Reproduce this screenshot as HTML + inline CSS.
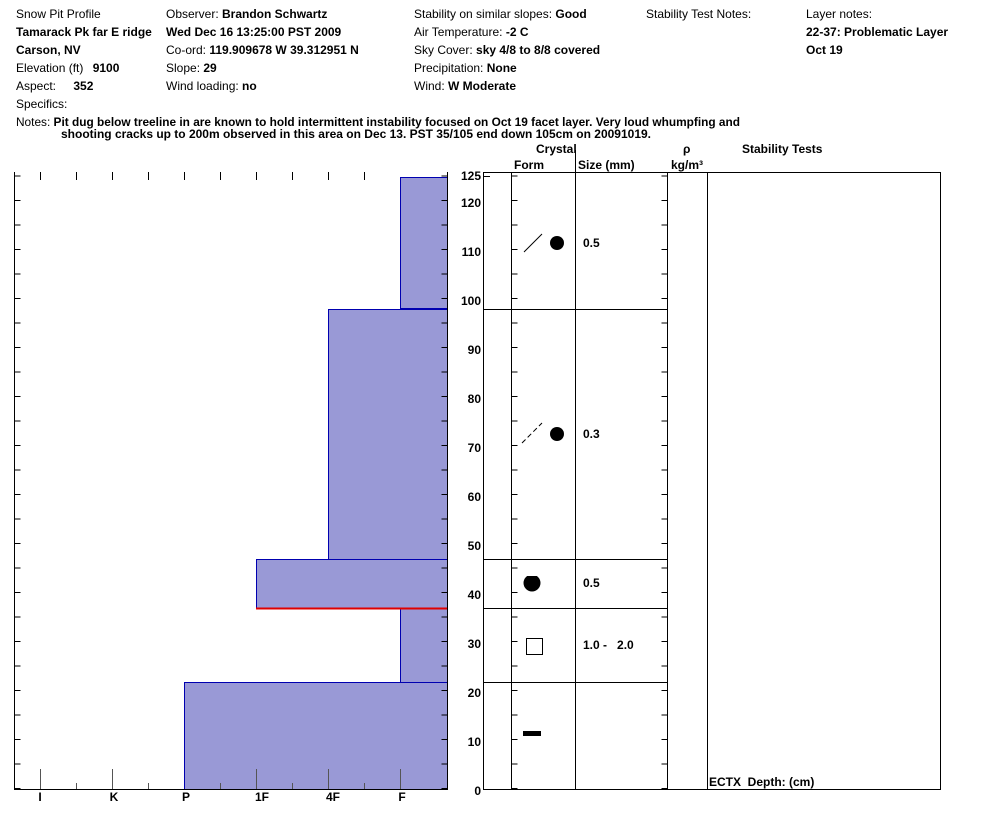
<!DOCTYPE html>
<html><head><meta charset="utf-8"><style>
body{margin:0;background:#fff;}
svg{display:block;font-family:"Liberation Sans",Arial,sans-serif;font-size:12px;}
.b{font-weight:bold;}
</style></head><body>
<svg width="994" height="826" viewBox="0 0 994 826" xmlns="http://www.w3.org/2000/svg">
<g fill="#000">
<text x="16" y="18">Snow Pit Profile</text>
<text x="16" y="36" class="b">Tamarack Pk far E ridge</text>
<text x="16" y="54" class="b">Carson, NV</text>
<text x="16" y="72">Elevation (ft) <tspan class="b" dx="6">9100</tspan></text>
<text x="16" y="90">Aspect: <tspan class="b" dx="14">352</tspan></text>
<text x="16" y="108">Specifics:</text>
<text x="166" y="18">Observer: <tspan class="b">Brandon Schwartz</tspan></text>
<text x="166" y="36" class="b">Wed Dec 16 13:25:00 PST 2009</text>
<text x="166" y="54">Co-ord: <tspan class="b">119.909678 W 39.312951 N</tspan></text>
<text x="166" y="72">Slope: <tspan class="b">29</tspan></text>
<text x="166" y="90">Wind loading: <tspan class="b">no</tspan></text>
<text x="414" y="18">Stability on similar slopes: <tspan class="b">Good</tspan></text>
<text x="414" y="36">Air Temperature: <tspan class="b">-2 C</tspan></text>
<text x="414" y="54">Sky Cover: <tspan class="b">sky 4/8 to 8/8 covered</tspan></text>
<text x="414" y="72">Precipitation: <tspan class="b">None</tspan></text>
<text x="414" y="90">Wind: <tspan class="b">W Moderate</tspan></text>
<text x="646" y="18">Stability Test Notes:</text>
<text x="806" y="18">Layer notes:</text>
<text x="806" y="36" class="b">22-37: Problematic Layer</text>
<text x="806" y="54" class="b">Oct 19</text>
<text x="16" y="126" textLength="724" lengthAdjust="spacingAndGlyphs">Notes: <tspan class="b">Pit dug below treeline in are known to hold intermittent instability focused on Oct 19 facet layer. Very loud whumpfing and</tspan></text>
<text x="61" y="138" class="b" textLength="590" lengthAdjust="spacingAndGlyphs">shooting cracks  up to 200m observed in this area on Dec 13. PST 35/105 end down 105cm on 20091019.</text>
</g>

<g fill="#9999d6" stroke="#0000b0" stroke-width="1">
<rect x="400.5" y="177.5" width="47" height="131"/>
<rect x="328.5" y="309.5" width="119" height="250"/>
<rect x="256.5" y="559.5" width="191" height="49"/>
<rect x="400.5" y="608.5" width="47" height="74"/>
<rect x="184.5" y="682.5" width="263" height="107"/>
</g>
<line x1="256" y1="608.5" x2="447" y2="608.5" stroke="#e00000" stroke-width="2"/>

<g stroke="#000" fill="none">
<line x1="14.5" y1="172" x2="14.5" y2="789.5"/>
<line x1="14" y1="789.5" x2="448" y2="789.5"/>
<line x1="447.5" y1="172" x2="447.5" y2="789.5"/>
<line x1="17.5" y1="789" x2="17.5" y2="172" stroke-width="6" stroke-dasharray="1 23.5"/>
<line x1="444.5" y1="789" x2="444.5" y2="172" stroke-width="6" stroke-dasharray="1 23.5"/>
</g>
<g stroke="#000">
<line x1="40.5" y1="172" x2="40.5" y2="180"/><line x1="76.5" y1="172" x2="76.5" y2="180"/>
<line x1="112.5" y1="172" x2="112.5" y2="180"/><line x1="148.5" y1="172" x2="148.5" y2="180"/>
<line x1="184.5" y1="172" x2="184.5" y2="180"/><line x1="220.5" y1="172" x2="220.5" y2="180"/>
<line x1="256.5" y1="172" x2="256.5" y2="180"/><line x1="292.5" y1="172" x2="292.5" y2="180"/>
<line x1="328.5" y1="172" x2="328.5" y2="180"/><line x1="364.5" y1="172" x2="364.5" y2="180"/>
</g>
<g stroke="#555">
<line x1="40.5" y1="769" x2="40.5" y2="789"/><line x1="76.5" y1="783" x2="76.5" y2="789"/>
<line x1="112.5" y1="769" x2="112.5" y2="789"/><line x1="148.5" y1="783" x2="148.5" y2="789"/>
<line x1="220.5" y1="783" x2="220.5" y2="789"/>
<line x1="256.5" y1="769" x2="256.5" y2="789"/><line x1="292.5" y1="783" x2="292.5" y2="789"/>
<line x1="328.5" y1="769" x2="328.5" y2="789"/><line x1="364.5" y1="783" x2="364.5" y2="789"/>
<line x1="400.5" y1="769" x2="400.5" y2="789"/>
</g>
<g class="b" text-anchor="middle">
<text x="40" y="801">I</text><text x="114" y="801">K</text><text x="186" y="801">P</text>
<text x="262" y="801">1F</text><text x="333" y="801">4F</text><text x="402" y="801">F</text>
</g>

<g class="b" text-anchor="end">
<text x="481" y="180">125</text><text x="481" y="207">120</text><text x="481" y="256">110</text>
<text x="481" y="305">100</text><text x="481" y="354">90</text><text x="481" y="403">80</text>
<text x="481" y="452">70</text><text x="481" y="501">60</text><text x="481" y="550">50</text>
<text x="481" y="599">40</text><text x="481" y="648">30</text><text x="481" y="697">20</text>
<text x="481" y="746">10</text><text x="481" y="795">0</text>
</g>

<g stroke="#000" fill="none">
<rect x="483.5" y="172.5" width="457" height="617"/>
<line x1="511.5" y1="172" x2="511.5" y2="789"/>
<line x1="575.5" y1="150" x2="575.5" y2="789"/>
<line x1="667.5" y1="172" x2="667.5" y2="789"/>
<line x1="707.5" y1="172" x2="707.5" y2="789"/>
<line x1="483" y1="309.5" x2="667" y2="309.5"/>
<line x1="483" y1="559.5" x2="667" y2="559.5"/>
<line x1="483" y1="608.5" x2="667" y2="608.5"/>
<line x1="483" y1="682.5" x2="667" y2="682.5"/>
<line x1="483" y1="176.5" x2="490" y2="176.5"/>
<line x1="514.5" y1="789" x2="514.5" y2="172" stroke-width="6" stroke-dasharray="1 23.5"/>
<line x1="664.5" y1="789" x2="664.5" y2="172" stroke-width="6" stroke-dasharray="1 23.5"/>
</g>
<g class="b">
<text x="536" y="153">Crystal</text>
<text x="514" y="169">Form</text>
<text x="578" y="169">Size (mm)</text>
<text x="683" y="153">ρ</text>
<text x="671" y="169">kg/m³</text>
<text x="742" y="153">Stability Tests</text>
<text x="583" y="247">0.5</text>
<text x="583" y="438">0.3</text>
<text x="583" y="587">0.5</text>
<text x="583" y="649" xml:space="preserve">1.0 -   2.0</text>
<text x="709" y="786" xml:space="preserve">ECTX  Depth: (cm)</text>
</g>
<line x1="524" y1="252" x2="542" y2="234" stroke="#000"/>
<circle cx="557" cy="243" r="7" fill="#000"/>
<line x1="522" y1="443" x2="542" y2="423" stroke="#000" stroke-dasharray="5 3"/>
<circle cx="557" cy="434" r="7" fill="#000"/>
<circle cx="532" cy="583" r="8.5" fill="#000"/>
<rect x="520" y="572" width="24" height="4" fill="#fff"/>
<rect x="526.5" y="638.5" width="16" height="16" fill="none" stroke="#000"/>
<rect x="523" y="731" width="18" height="5" fill="#000"/>
</svg>
</body></html>
